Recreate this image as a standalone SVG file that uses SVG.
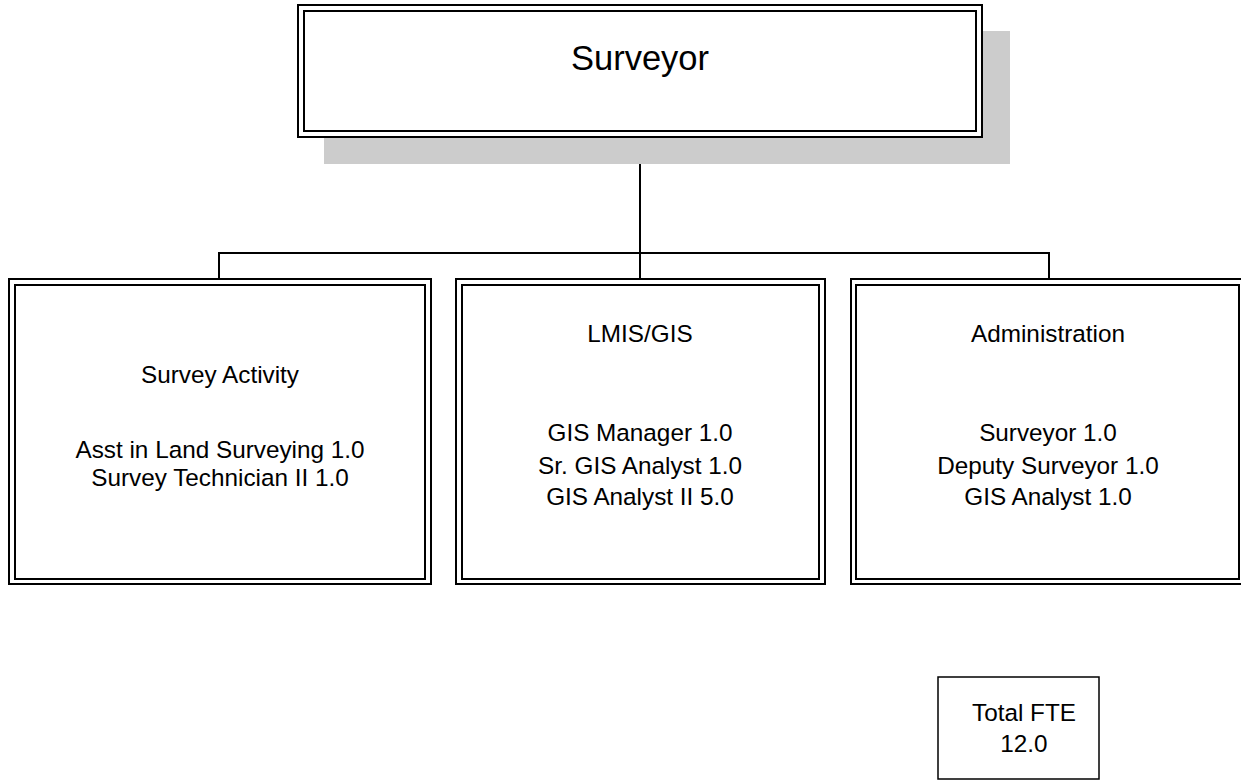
<svg xmlns="http://www.w3.org/2000/svg" width="1241" height="782" viewBox="0 0 1241 782">
<style>
.bx{fill:none;stroke:#000;stroke-width:2}
.wf{fill:#fff;stroke:#000;stroke-width:2}
.t{font-family:"Liberation Sans",Arial,sans-serif;font-size:24.3px;fill:#000;text-anchor:middle}
.tl{font-family:"Liberation Sans",Arial,sans-serif;font-size:34.5px;fill:#000;text-anchor:middle}
.cn{fill:none;stroke:#000;stroke-width:2}
</style>
<rect width="1241" height="782" fill="#fff"/>
<g id="connectors">
<path class="cn" d="M640,137 V280"/>
<path class="cn" d="M219,280 V253 H1049 V280"/>
</g>
<g id="surveyor">
<rect x="324" y="31" width="686" height="133" fill="#cccccc"/>
<rect class="wf" x="298" y="5" width="684" height="132"/>
<rect class="bx" x="304" y="11" width="672" height="120"/>
<text class="tl" x="640" y="70">Surveyor</text>
</g>
<g id="survey-activity">
<rect class="wf" x="9" y="279" width="422" height="305"/>
<rect class="bx" x="15" y="285" width="410" height="294"/>
<text class="t" x="220" y="383">Survey Activity</text>
<text class="t" x="220" y="458">Asst in Land Surveying 1.0</text>
<text class="t" x="220" y="486">Survey Technician II 1.0</text>
</g>
<g id="lmis-gis">
<rect class="wf" x="456" y="279" width="369" height="305"/>
<rect class="bx" x="462" y="285" width="357" height="294"/>
<text class="t" x="640" y="342">LMIS/GIS</text>
<text class="t" x="640" y="441">GIS Manager 1.0</text>
<text class="t" x="640" y="474">Sr. GIS Analyst 1.0</text>
<text class="t" x="640" y="505">GIS Analyst II 5.0</text>
</g>
<g id="administration">
<rect class="wf" x="851" y="279" width="400" height="305"/>
<rect class="bx" x="856" y="285" width="383" height="294"/>
<text class="t" x="1048" y="342">Administration</text>
<text class="t" x="1048" y="441">Surveyor 1.0</text>
<text class="t" x="1048" y="474">Deputy Surveyor 1.0</text>
<text class="t" x="1048" y="505">GIS Analyst 1.0</text>
</g>
<g id="total-fte">
<rect x="938" y="677" width="161" height="102" fill="#fff" stroke="#000" stroke-width="1.5"/>
<text class="t" x="1024" y="721">Total FTE</text>
<text class="t" x="1024" y="752">12.0</text>
</g>
</svg>
